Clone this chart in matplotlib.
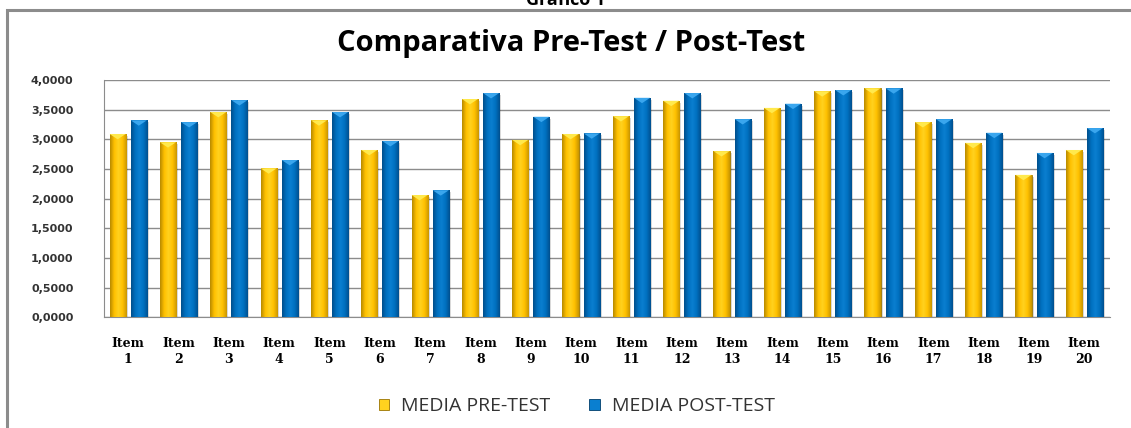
import numpy as np
import matplotlib
matplotlib.use("Agg")
import matplotlib.pyplot as plt
from matplotlib.colors import LinearSegmentedColormap
from matplotlib.patches import Rectangle

# datos
items = ["Item\n%d" % i for i in range(1, 21)]
pre_test = [3.09, 2.95, 3.46, 2.51, 3.32, 2.82, 2.06, 3.68, 2.99, 3.09,
            3.39, 3.65, 2.80, 3.53, 3.81, 3.86, 3.29, 2.94, 2.40, 2.82]
post_test = [3.32, 3.29, 3.66, 2.65, 3.46, 2.97, 2.14, 3.78, 3.38, 3.10,
             3.70, 3.78, 3.34, 3.60, 3.83, 3.86, 3.34, 3.11, 2.77, 3.19]
series = ["MEDIA PRE-TEST", "MEDIA POST-TEST"]

fig = plt.figure(figsize=(11.31, 4.28), dpi=100)
ax = fig.add_axes([0.092, 0.259, 0.889, 0.554])

# marco del grafico
fig.patches.append(Rectangle((7/1131, -0.1), 1.2, 1 - 10/428 + 0.1, transform=fig.transFigure,
                             fill=False, edgecolor="#8c8c8c", linewidth=2.2))
fig.text(0.5, 1.0, "Gráfico 1", ha="center", va="center", fontsize=13, fontweight="bold",
         family="Open Sans")

x = np.arange(len(items))
w = 0.32
off = 0.21

cmap_gold = LinearSegmentedColormap.from_list("g", ["#b88a00", "#ffc000", "#ffd21f", "#ffc000", "#c99600"])
cmap_blue = LinearSegmentedColormap.from_list("b", ["#004f8c", "#0070c0", "#0a7fd0", "#0070c0", "#00508f"])
grad = np.linspace(0, 1, 64).reshape(1, -1)

def draw_bars(xs, vals, cmap, edge, cap, label):
    bars = ax.bar(xs, vals, w, color=cmap(0.5), edgecolor=edge, linewidth=0.6, label=label, zorder=3)
    for b in bars:
        bx, by = b.get_x(), b.get_y()
        bw, bh = b.get_width(), b.get_height()
        # sombra
        ax.add_patch(Rectangle((bx + 0.04, by), bw, bh - 0.03, color="#000000", alpha=0.15, zorder=2, lw=0))
        im = ax.imshow(grad, cmap=cmap, aspect="auto", extent=(bx, bx + bw, by, by + bh), zorder=3.5)
        im.set_clip_path(b)
        # bisel superior
        ax.fill([bx, bx + bw, bx + bw / 2], [by + bh, by + bh, by + bh - 0.09], color=cap, zorder=4, lw=0)
    return bars

draw_bars(x - off, pre_test, cmap_gold, "#9a7400", "#ffe94d", series[0])
draw_bars(x + off, post_test, cmap_blue, "#003e6b", "#3aa6ee", series[1])

ax.set_xlim(-0.48, len(items) - 0.5)
ax.set_ylim(0, 4)
ax.set_yticks(np.arange(0, 4.01, 0.5))
ax.yaxis.set_major_formatter(plt.FuncFormatter(lambda v, p: ("%.4f" % v).replace(".", ",")))
ax.set_xticks(x)
ax.set_xticklabels(items, fontsize=9, fontweight="bold", family="DejaVu Serif", linespacing=1.3)
ax.tick_params(axis="y", labelsize=8, length=0, pad=22)
ax.tick_params(axis="x", length=0, pad=14)
for lab in ax.get_yticklabels():
    lab.set_fontweight("bold")
    lab.set_color("#333333")
ax.grid(axis="y", color="#8c8c8c", linewidth=1, zorder=0)
ax.set_axisbelow(True)
for s in ["top", "right"]:
    ax.spines[s].set_visible(False)
ax.spines["left"].set_color("#8c8c8c")
ax.spines["bottom"].set_color("#8c8c8c")

fig.text(0.505, 1 - 44/428, "Comparativa Pre-Test / Post-Test", ha="center", va="center",
         fontsize=21, fontweight="bold", family="Open Sans")

leg = ax.legend(loc="upper center", bbox_to_anchor=(0.47, -0.265), ncol=2, frameon=False,
                handlelength=0.55, handleheight=0.55, columnspacing=2.0, handletextpad=0.6,
                prop={"family": "Open Sans", "size": 14})
for t in leg.get_texts():
    t.set_color("#333333")
for h in leg.legend_handles:
    h.set_height(8)

fig.savefig("out.png", dpi=100)
